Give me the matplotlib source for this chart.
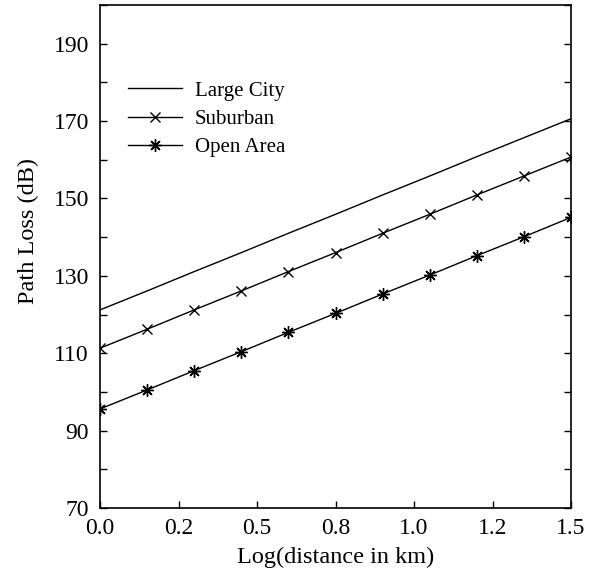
import matplotlib
matplotlib.use('Agg')
import matplotlib.pyplot as plt
from matplotlib.ticker import FormatStrFormatter, MultipleLocator

# --- data ---
log_dist = [0.0, 0.15, 0.3, 0.45, 0.6, 0.75, 0.9, 1.05, 1.2, 1.35, 1.5]
large_city = [121.2, 126.1, 131.1, 136.0, 141.0, 145.9, 150.9, 155.8, 160.8, 165.7, 170.6]
suburban = [111.3, 116.2, 121.2, 126.1, 131.1, 136.0, 141.0, 145.9, 150.9, 155.8, 160.7]
open_area = [95.6, 100.5, 105.5, 110.4, 115.4, 120.3, 125.3, 130.2, 135.2, 140.1, 145.1]

x_ticks = [0.0, 0.25, 0.5, 0.75, 1.0, 1.25, 1.5]
y_ticks = [70, 90, 110, 130, 150, 170, 190]

plt.rcParams['font.family'] = ['Liberation Serif', 'DejaVu Serif']

fig = plt.figure(figsize=(6.09, 5.71), dpi=100)
ax = fig.add_axes([100 / 609, 63 / 571, 471 / 609, 503 / 571])

ax.plot(log_dist, large_city, color='black', lw=1.0, label='Large City')
ax.plot(log_dist, suburban, color='black', lw=1.0, marker='x', ms=7,
        mew=1.0, label='Suburban')
ax.plot(log_dist, open_area, color='black', lw=1.0, marker=(8, 2, 0), ms=9,
        mew=1.0, label='Open Area')

ax.set_xlim(0, 1.5)
ax.set_ylim(70, 200)
ax.set_xticks(x_ticks)
ax.xaxis.set_major_formatter(FormatStrFormatter('%.1f'))
ax.set_yticks(y_ticks)
ax.yaxis.set_minor_locator(MultipleLocator(10))
ax.tick_params(which='both', direction='in', length=5, width=1.0,
               labelsize=17, top=False, right=True)
ax.tick_params(axis='y', pad=8)
ax.tick_params(axis='x', pad=7)
for s in ax.spines.values():
    s.set_linewidth(1.2)

ax.set_xlabel('Log(distance in km)', fontsize=17.5, labelpad=6)
ax.set_ylabel('Path Loss (dB)', fontsize=17.5)
# label sits a bit above the axis centre in the reference
ax.yaxis.set_label_coords(-0.13, 0.55)

ax.legend(loc='upper left', bbox_to_anchor=(0.02, 0.886), frameon=False,
          fontsize=15, handlelength=2.6, handletextpad=0.6, labelspacing=0.42)

fig.savefig('out.png', dpi=100)
